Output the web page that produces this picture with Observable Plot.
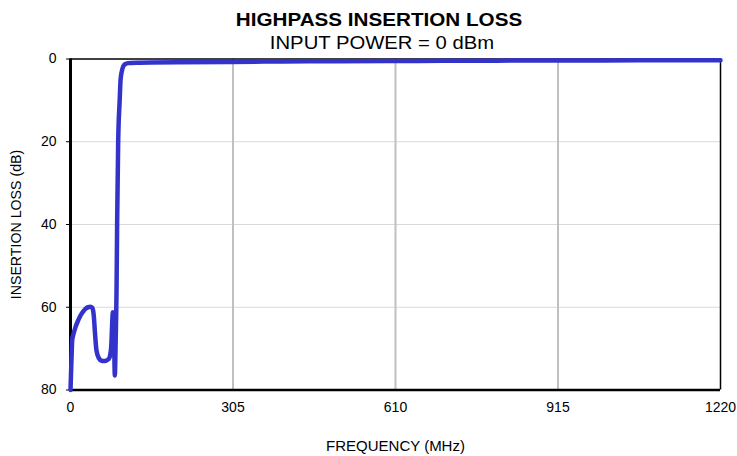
<!DOCTYPE html>
<html>
<head>
<meta charset="utf-8">
<script src="https://cdn.jsdelivr.net/npm/d3@7"></script>
<script src="https://cdn.jsdelivr.net/npm/@observablehq/plot@0.6"></script>
<style>
  html, body { margin: 0; padding: 0; background: #fff; }
  #wrap { width: 737px; height: 456px; position: relative; overflow: hidden; }
  #head { position: relative; width: 737px; height: 50px; }
  .t { position: absolute; white-space: nowrap; line-height: 1; color: #000;
       font-family: "Liberation Sans", Arial, sans-serif; }
  #title { left: 379px; top: 11px; font-size: 18.5px; font-weight: bold; transform: translateX(-50%) scaleX(1.116); }
  #subtitle { left: 381.5px; top: 34.5px; font-size: 17.5px; transform: translateX(-50%) scaleX(1.158); }
  svg { display: block; }
</style>
</head>
<body>
<div id="wrap">
  <div id="head">
    <div class="t" id="title">HIGHPASS INSERTION LOSS</div>
    <div class="t" id="subtitle">INPUT POWER = 0 dBm</div>
  </div>
  <div id="chart"></div>
</div>
<script>
// Frequency (MHz) and insertion loss (dB)
const freq = [0, 1, 2, 3.2, 6, 9.4, 14, 18.8, 24, 28, 33, 37.5, 40.5, 42.5, 44, 45.6, 48.8, 53.2, 58, 62.6, 67, 71.9, 74.5, 76.4, 78.2, 79.4, 80.5, 81.5, 83.2, 84.8, 86.4, 87.5, 89.5, 92.3, 94, 95.5, 97, 99, 103, 108, 113, 130, 150, 200, 300, 400, 500, 600, 700, 800, 900, 1000, 1100, 1220];
const loss = [80, 76, 72, 68, 66.3, 64.8, 63.3, 62, 61, 60.4, 60, 59.9, 60.1, 60.8, 62.5, 65.6, 70.5, 72.3, 72.9, 73.0, 72.9, 72.5, 71.5, 69.6, 64, 61.2, 61.5, 65, 76.5, 68, 56, 40, 20, 10, 5, 3.5, 2.6, 1.8, 1.2, 1.0, 0.95, 0.9, 0.85, 0.8, 0.7, 0.6, 0.55, 0.5, 0.45, 0.4, 0.35, 0.35, 0.3, 0.3];

const xTicks = [0, 305, 610, 915, 1220];
const yTicks = [0, 20, 40, 60, 80];
const yGrid = [20, 40, 60];
const xGrid = [305, 610, 915];
const xLabel = "FREQUENCY (MHz)";
const yLabel = "INSERTION LOSS (dB)";

const data = freq.map((f, i) => ({f, l: loss[i]}));

const chart = Plot.plot({
  width: 737,
  height: 406,
  marginTop: 8.5,
  marginBottom: 66.5,
  marginLeft: 70,
  marginRight: 17,
  style: {fontFamily: "'Liberation Sans', Arial, sans-serif", fontSize: "14px", background: "#fff", color: "#000"},
  x: {domain: [0, 1220]},
  y: {domain: [0, 80], reverse: true},
  marks: [
    Plot.gridY(yGrid, {stroke: "#d9d9d9", strokeOpacity: 1, strokeWidth: 1}),
    Plot.gridX(xGrid, {stroke: "#c0c0c0", strokeOpacity: 1, strokeWidth: 2}),
    Plot.ruleY([0], {stroke: "#000", strokeWidth: 1.5}),
    Plot.ruleX([1220], {stroke: "#000", strokeWidth: 1.5}),
    Plot.axisY({ticks: yTicks, tickSize: 4, tickPadding: 10, label: null, tickFormat: d => String(d), fontSize: 14}),
    Plot.axisX({ticks: xTicks, tickSize: 0, tickPadding: 12.5, label: null, tickFormat: d => String(d), fontSize: 14}),
    Plot.ruleX([0], {stroke: "#000", strokeWidth: 3}),
    Plot.ruleY([80], {stroke: "#000", strokeWidth: 2.5}),
    Plot.line(data, {x: "f", y: "l", stroke: "#3333cc", strokeWidth: 4.5, curve: "monotone-x", strokeLinejoin: "round"}),
    Plot.text([xLabel], {frameAnchor: "bottom", dy: 56.5, lineAnchor: "middle", textAnchor: "middle", text: d => d, fontSize: 15}),
    Plot.text([yLabel], {frameAnchor: "left", dx: -54, rotate: -90, lineAnchor: "middle", textAnchor: "middle", text: d => d, fontSize: 14.2})
  ]
});
document.getElementById("chart").appendChild(chart);
</script>
</body>
</html>
